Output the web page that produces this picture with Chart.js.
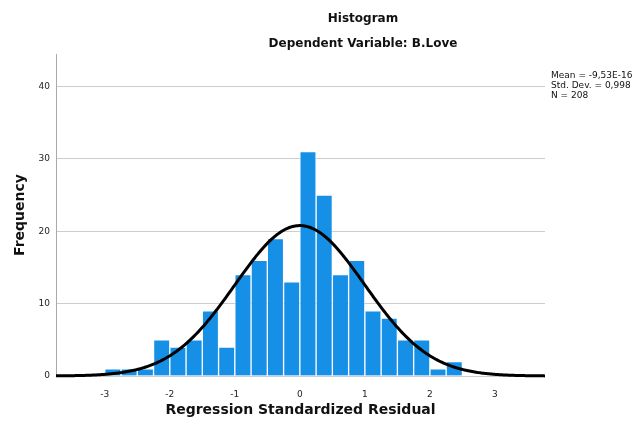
<!DOCTYPE html>
<html>
<head>
<meta charset="utf-8">
<script src="https://cdn.jsdelivr.net/npm/chart.js@4.4.1/dist/chart.umd.min.js"></script>
<style>
  html, body { margin: 0; padding: 0; background: #fff; }
  #wrap { width: 635px; height: 423px; }
</style>
</head>
<body>
<div id="wrap"><canvas id="hist" width="635" height="423"></canvas></div>
<script>
// histogram bins (width 0.25)
const binCenters = [-2.875, -2.625, -2.375, -2.125, -1.875, -1.625, -1.375, -1.125,
  -0.875, -0.625, -0.375, -0.125, 0.125, 0.375, 0.625, 0.875, 1.125, 1.375,
  1.625, 1.875, 2.125, 2.375];
const binCounts = [1, 1, 1, 5, 4, 5, 9, 4, 14, 16, 19, 13, 31, 25, 14, 16, 9, 8, 5, 5, 1, 2];
const binWidth = 0.25;

const xTicks = [-3, -2, -1, 0, 1, 2, 3];
const yTicks = [0, 10, 20, 30, 40];

// summary stats shown on the right
const statMean = -9.53e-16;
const statSd = 0.998;
const statN = 208;
const statLabels = ['Mean = -9,53E-16', 'Std. Dev. = 0,998', 'N = 208'];

const xMin = -3.75, xMax = 3.77;

// fitted normal curve scaled to counts
const curve = [];
for (let x = xMin; x <= xMax + 1e-9; x += 0.02) {
  const z = (x - statMean) / statSd;
  curve.push({ x: x, y: statN * binWidth * Math.exp(-0.5 * z * z) / (statSd * Math.sqrt(2 * Math.PI)) });
}

const FONT = '"DejaVu Sans", sans-serif';

const overlayText = {
  id: 'overlayText',
  afterDraw(chart) {
    const ctx = chart.ctx;
    ctx.save();
    ctx.fillStyle = '#111';
    ctx.textAlign = 'center';
    ctx.textBaseline = 'middle';
    ctx.font = 'bold 12px ' + FONT;
    ctx.fillText('Histogram', 363, 19);
    ctx.fillText('Dependent Variable: B.Love', 363, 44);
    ctx.textAlign = 'left';
    ctx.font = '9px ' + FONT;
    statLabels.forEach((t, i) => ctx.fillText(t, 551, 76 + i * 10));
    ctx.restore();
  }
};

new Chart(document.getElementById('hist'), {
  data: {
    datasets: [{
      type: 'line',
      data: curve,
      borderColor: '#000',
      borderWidth: 3,
      pointRadius: 0,
      tension: 0,
      clip: { left: 0, top: 0, right: 0, bottom: 4 },
      order: 0,
    }, {
      type: 'bar',
      data: binCenters.map((c, i) => ({ x: c, y: binCounts[i] })),
      backgroundColor: '#1690e6',
      borderColor: 'rgba(255,255,255,0.6)',
      borderWidth: 1,
      barPercentage: 1,
      categoryPercentage: 1,
      order: 1,
    }],
  },
  options: {
    responsive: false,
    animation: false,
    layout: { padding: { left: 0, right: 90, top: 54, bottom: 0 } },
    plugins: { legend: { display: false }, tooltip: { enabled: false } },
    scales: {
      x: {
        type: 'linear',
        min: xMin,
        max: xMax,
        offset: false,
        afterFit: (axis) => { axis.height = 47; },
        afterBuildTicks: (axis) => { axis.ticks = xTicks.map(v => ({ value: v })); },
        grid: { display: false },
        border: { display: false },
        ticks: { color: '#222', font: { family: FONT, size: 9 }, padding: 5 },
        title: {
          display: true,
          text: 'Regression Standardized Residual',
          color: '#111',
          font: { family: FONT, size: 14, weight: 'bold' },
          padding: { top: 0, bottom: 4 },
        },
      },
      y: {
        min: 0,
        max: 44.5,
        afterFit: (axis) => { axis.width = 56; },
        afterBuildTicks: (axis) => { axis.ticks = yTicks.map(v => ({ value: v })); },
        grid: { color: '#cccccc', lineWidth: 1, drawTicks: false },
        border: { display: true, color: '#aaaaaa' },
        ticks: { color: '#222', font: { family: FONT, size: 9 }, padding: 6 },
        title: {
          display: true,
          text: 'Frequency',
          color: '#111',
          font: { family: FONT, size: 14, weight: 'bold' },
          padding: { top: 12, bottom: 0 },
        },
      },
    },
  },
  plugins: [overlayText],
});
</script>
</body>
</html>
